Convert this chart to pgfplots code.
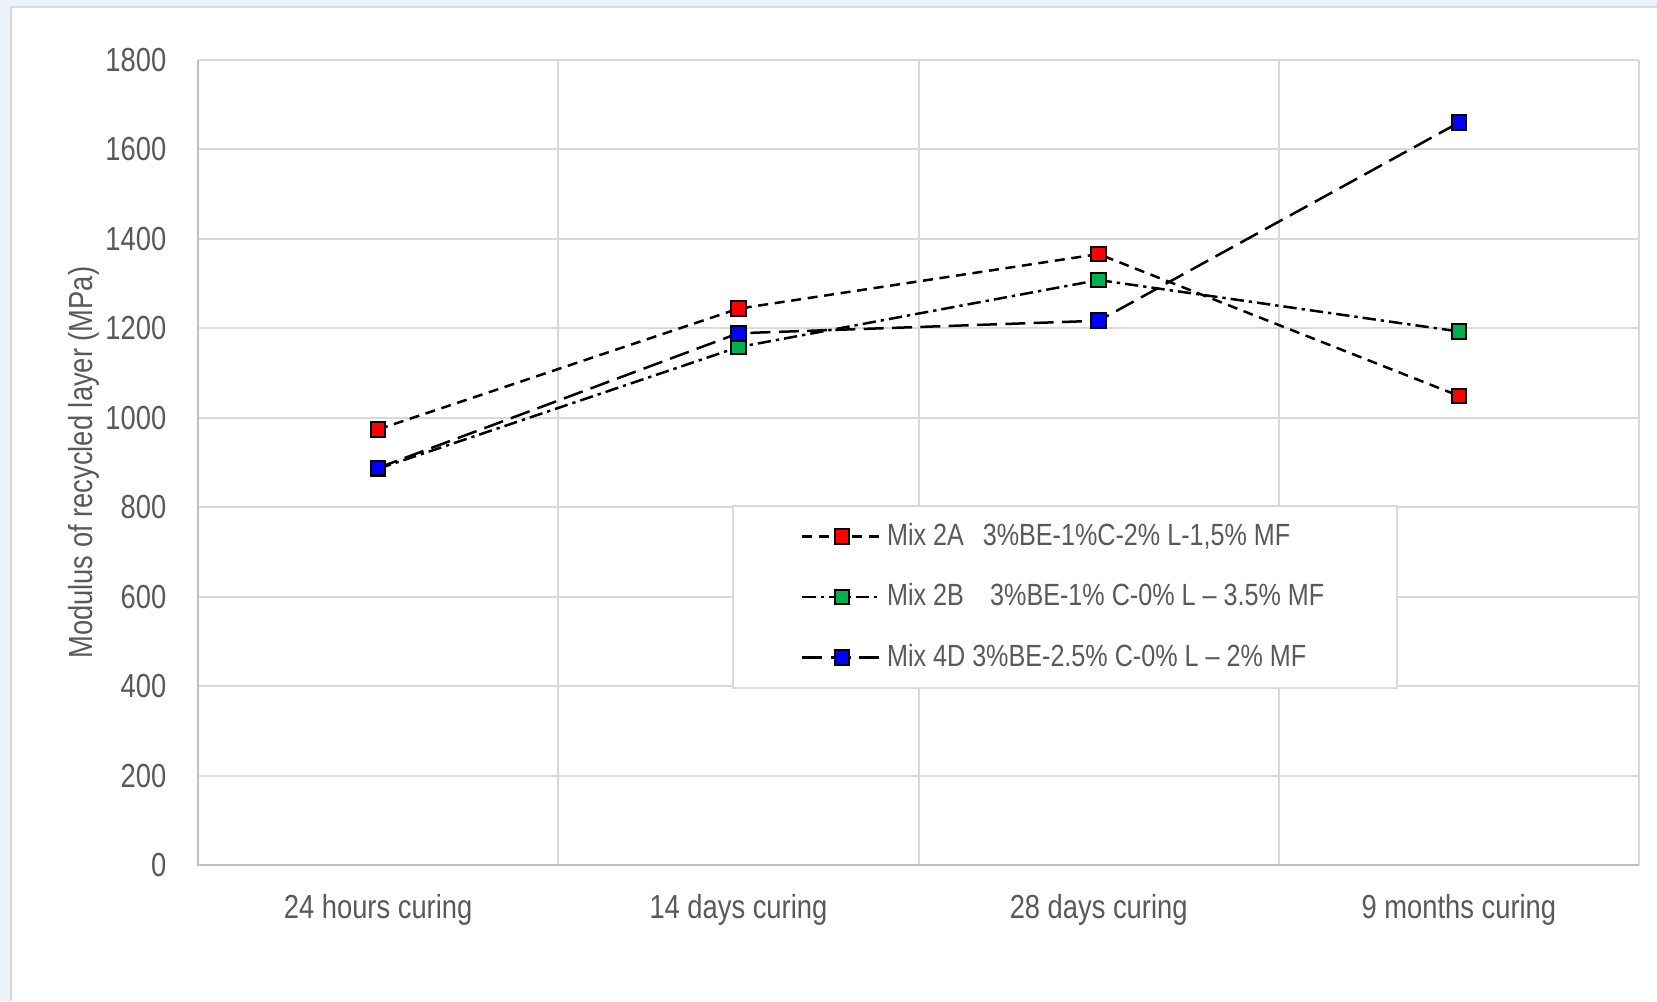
\documentclass[border=0pt]{standalone}
\usepackage{fontspec}
\setmainfont{Liberation Sans}[FakeStretch=0.82]
\usepackage{pgfplots}
\pgfplotsset{compat=1.18}
\definecolor{txt}{HTML}{595959}
\definecolor{gridc}{HTML}{D9D9D9}
\definecolor{axc}{HTML}{BFBFBF}
\definecolor{bgblue}{HTML}{EAF2FC}
\definecolor{mred}{HTML}{FF0000}
\definecolor{mgreen}{HTML}{00B050}
\definecolor{mblue}{HTML}{0000FF}
\begin{document}
\begin{tikzpicture}
\path[use as bounding box, fill=bgblue] (0,0) rectangle (497.1pt,300.3pt);
\fill[white] (3.3pt,0) rectangle (497.1pt,298.2pt);
\draw[gridc, line width=0.5pt] (3.3pt,0pt) -- (3.3pt,298.2pt) -- (497.1pt,298.2pt);
\begin{axis}[
  at={(59.4pt,40.8pt)}, anchor=south west,
  scale only axis, width=432.3pt, height=241.5pt,
  xmin=-0.5, xmax=3.5, ymin=0, ymax=1800,
  clip=false,
  axis line style={draw=none},
  xtick={0,1,2,3},
  xticklabels={24 hours curing, 14 days curing, 28 days curing, 9 months curing},
  minor xtick={-0.5,0.5,1.5,2.5,3.5},
  ytick={0,200,...,1800},
  xmajorgrids=false, xminorgrids=true, ymajorgrids=true,
  grid style={gridc, line width=0.6pt},
  minor grid style={gridc, line width=0.6pt},
  major tick length=0pt, minor tick length=0pt,
  tick style={draw=none},
  /pgf/number format/assume math mode=true,
  yticklabel style={text=txt, xshift=-6pt, /pgf/number format/1000 sep={}},
  xticklabel style={text=txt, yshift=-5.4pt},
  legend image code/.code={\draw[mark repeat=2,mark phase=2] plot coordinates {(0pt,0pt) (11.85pt,0pt) (23.7pt,0pt)};},
  legend cell align=left,
  legend style={at={(rel axis cs:0.3706,0.4472)}, anchor=north west,
    draw=gridc, line width=0.5pt, fill=white, text=txt,
    font=\fontsize{9.2pt}{11pt}\selectfont,
    inner xsep=20.5pt, inner ysep=4.6pt, row sep=8.8pt,
    nodes={inner xsep=1.3pt, inner ysep=0pt, text height=7.3pt, text depth=2pt}},
  after end axis/.code={\draw[axc, line width=0.75pt] (rel axis cs:0,1) -- (rel axis cs:0,0) -- (rel axis cs:1,0);},
]
\addplot[black, line width=0.75pt, dash pattern=on 3pt off 2pt, mark=square*, mark size=2.2pt,
  mark options={solid, fill=mred, draw=black, line width=0.6pt}]
  coordinates {(0,974) (1,1244) (2,1366) (3,1049)};
\addlegendentry{Mix 2A\hspace{3.6pt} 3\%BE-1\%C-2\% L-1,5\% MF}
\addplot[black, line width=0.75pt, dash pattern=on 4pt off 1.5pt on 1pt off 1.5pt, mark=square*, mark size=2.2pt,
  mark options={solid, fill=mgreen, draw=black, line width=0.6pt}]
  coordinates {(0,886) (1,1158) (2,1308) (3,1193)};
\addlegendentry{Mix 2B\hspace{5.8pt} 3\%BE-1\% C-0\% L – 3.5\% MF}
\addplot[black, line width=0.75pt, dash pattern=on 6pt off 2.5pt, mark=square*, mark size=2.2pt,
  mark options={solid, fill=mblue, draw=black, line width=0.6pt}]
  coordinates {(0,888) (1,1189) (2,1217) (3,1660)};
\addlegendentry{Mix 4D 3\%BE-2.5\% C-0\% L – 2\% MF}
\end{axis}
\node[rotate=90, text=txt, anchor=center] at (25.3pt,161.5pt) {Modulus of recycled layer (MPa)};
\end{tikzpicture}
\end{document}
